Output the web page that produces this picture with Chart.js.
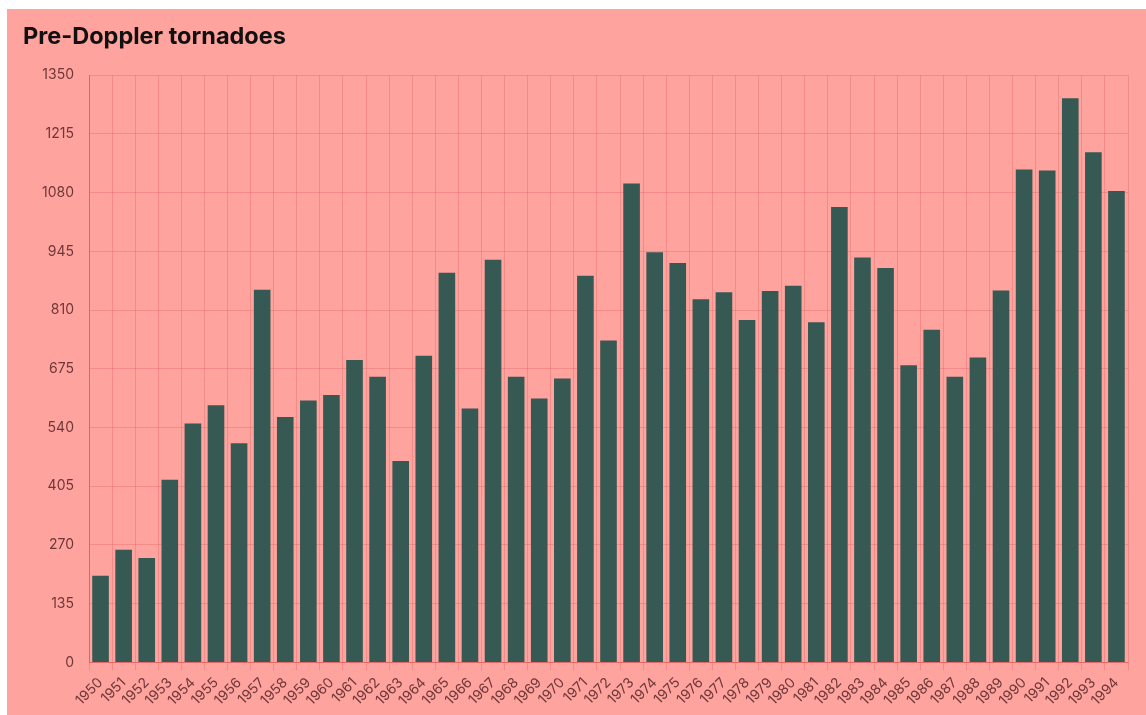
<!DOCTYPE html>
<html>
<head>
<meta charset="utf-8">
<script src="https://cdn.jsdelivr.net/npm/chart.js@4"></script>
<style>
  html, body { margin: 0; padding: 0; background: #fff; }
  #wrap {
    position: absolute; left: 7px; top: 9px;
    width: 1139px; height: 706px;
    background: #ffa39e;
  }
</style>
</head>
<body>
<div id="wrap"><canvas id="myChart"></canvas></div>
<script>
//Data
const years = [
  "1950","1951","1952","1953","1954","1955","1956","1957","1958","1959",
  "1960","1961","1962","1963","1964","1965","1966","1967","1968","1969",
  "1970","1971","1972","1973","1974","1975","1976","1977","1978","1979",
  "1980","1981","1982","1983","1984","1985","1986","1987","1988","1989",
  "1990","1991","1992","1993","1994"
];
const tornadoes = [
  199, 259, 240, 420, 549, 591, 504, 857, 564, 602,
  615, 695, 657, 463, 705, 896, 584, 926, 657, 607,
  653, 889, 740, 1101, 943, 918, 835, 851, 787, 854,
  866, 782, 1047, 931, 907, 683, 765, 657, 701, 855,
  1133, 1131, 1297, 1173, 1084
];
const yTicks = [0, 135, 270, 405, 540, 675, 810, 945, 1080, 1215, 1350];

//Colors
const barColor = '#375954';
const tickColor = '#6e3838';
const gridColor = 'rgba(214, 80, 80, 0.28)';

let ctx = document.getElementById('myChart');

let myBarChart = new Chart(ctx, {
  type: 'bar',
  data: {
    labels: years,
    datasets: [{
      label: 'Tornadoes',
      data: tornadoes,
      backgroundColor: barColor
    }]
  },
  options: {
    responsive: true,
    maintainAspectRatio: false,
    animation: false,
    layout: { padding: { left: 16, right: 18, top: 8, bottom: 2 } },
    plugins: {
      legend: { display: false },
      tooltip: { enabled: false },
      title: {
        display: true,
        text: 'Pre-Doppler tornadoes',
        align: 'start',
        color: '#111',
        font: { family: 'Inter', size: 23.5, weight: 'bold' },
        padding: { top: 6, bottom: 24 }
      }
    },
    scales: {
      x: {
        grid: { color: gridColor, tickLength: 8 },
        border: { color: 'rgba(200, 70, 70, 0.45)' },
        ticks: {
          color: tickColor,
          font: { family: 'Inter', size: 14 },
          maxRotation: 45,
          minRotation: 45,
          autoSkip: false,
          padding: 4
        }
      },
      y: {
        min: 0,
        max: 1350,
        afterBuildTicks: function(axis) {
          axis.ticks = yTicks.map(v => ({ value: v }));
        },
        afterFit: function(axis) {
          axis.width = 66;
        },
        grid: { color: gridColor, drawTicks: false },
        border: { color: 'rgba(180, 70, 70, 0.5)' },
        ticks: {
          color: tickColor,
          font: { family: 'Inter', size: 14 },
          padding: 15,
          callback: function(v) { return String(v); }
        }
      }
    }
  }
});
</script>
</body>
</html>
